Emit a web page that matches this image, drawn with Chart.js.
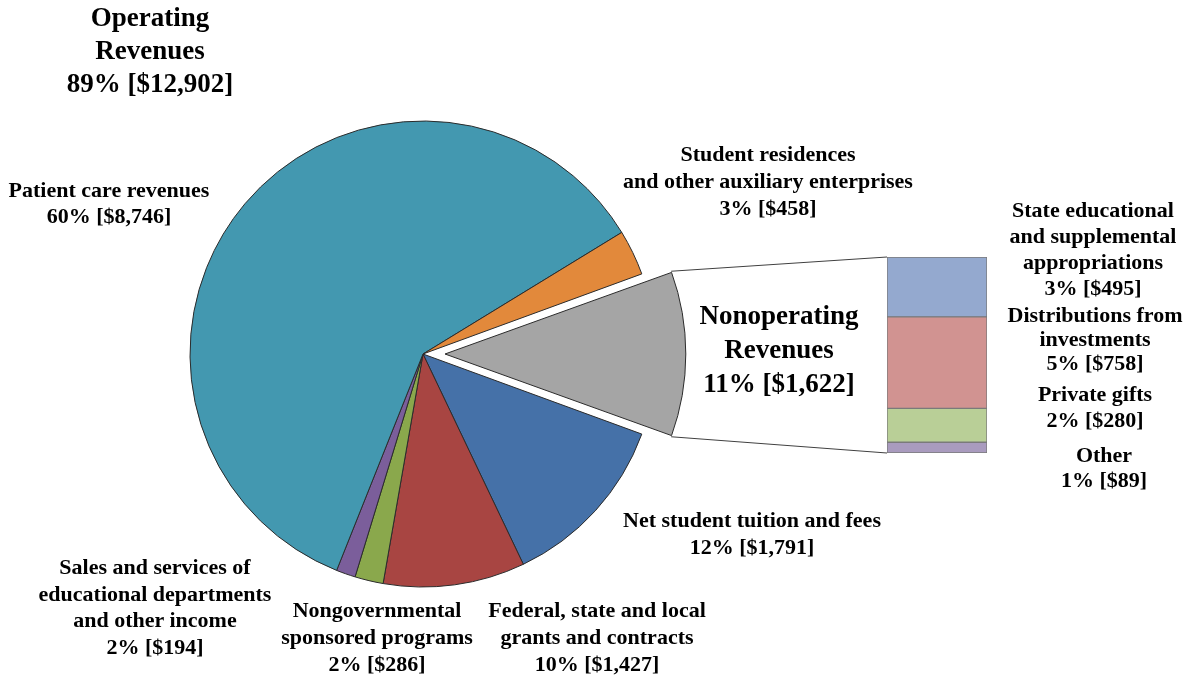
<!DOCTYPE html>
<html lang="en">
<head>
    <meta charset="UTF-8">
    <title>Revenues - Pie of Bar</title>
    <style>
        html, body { margin: 0; padding: 0; background: #fff; }
        .wrap { position: relative; width: 1191px; height: 677px; overflow: hidden; }
        .wrap canvas { position: absolute; left: 0; top: 0; }
        .lbl {
            position: absolute;
            transform: translateX(-50%);
            white-space: nowrap;
            text-align: center;
            font-family: "Liberation Serif", "Times New Roman", serif;
            font-weight: bold;
            font-size: 22px;
            line-height: 26px;
            color: #000;
        }
        .big { font-size: 27px; line-height: 33px; }
    </style>
</head>
<body>
    <div class="wrap">
        <canvas id="barChart" width="1191" height="677"></canvas>
        <canvas id="pieChart" width="1191" height="677"></canvas>

        <div class="lbl big" style="left:150px; top:1px;">Operating<br>Revenues<br>89% [$12,902]</div>
        <div class="lbl" style="left:109px; top:177px;">Patient care revenues<br>60% [$8,746]</div>
        <div class="lbl" style="left:768px; top:140px; line-height:27px;">Student residences<br>and other auxiliary enterprises<br>3% [$458]</div>
        <div class="lbl" style="left:1093px; top:197px;">State educational<br>and supplemental<br>appropriations<br>3% [$495]</div>
        <div class="lbl" style="left:1095px; top:303px; line-height:24px;">Distributions from<br>investments<br>5% [$758]</div>
        <div class="lbl" style="left:1095px; top:381px;">Private gifts<br>2% [$280]</div>
        <div class="lbl" style="left:1104px; top:442px; line-height:25px;">Other<br>1% [$89]</div>
        <div class="lbl big" style="left:779px; top:298px; line-height:34px;">Nonoperating<br>Revenues<br>11% [$1,622]</div>
        <div class="lbl" style="left:752px; top:506px; line-height:27px;">Net student tuition and fees<br>12% [$1,791]</div>
        <div class="lbl" style="left:597px; top:596px; line-height:27px;">Federal, state and local<br>grants and contracts<br>10% [$1,427]</div>
        <div class="lbl" style="left:377px; top:596px; line-height:27px;">Nongovernmental<br>sponsored programs<br>2% [$286]</div>
        <div class="lbl" style="left:155px; top:554px; line-height:26.5px;">Sales and services of<br>educational departments<br>and other income<br>2% [$194]</div>
    </div>

    <script src="https://cdn.jsdelivr.net/npm/chart.js"></script>
    <script>
        // pie slices, clockwise starting just below the exploded slice
        const pieLabels = [
            'Net student tuition and fees',
            'Federal, state and local grants and contracts',
            'Nongovernmental sponsored programs',
            'Sales and services of educational departments and other income',
            'Patient care revenues',
            'Student residences and other auxiliary enterprises',
            'Nonoperating Revenues'
        ];
        const pieValues = [1791, 1427, 286, 194, 8746, 458, 1622];
        const pieColors = ['#4571a8', '#a84542', '#8aa84c', '#7b5e9b', '#4398b0', '#e2893b', '#a5a5a5'];

        // breakdown of the nonoperating slice, top to bottom
        const barLabels = ['State educational and supplemental appropriations', 'Distributions from investments', 'Private gifts', 'Other'];
        const barValues = [495, 758, 280, 89];
        const barColors = ['#94a9cf', '#d19391', '#b9cf97', '#a99bbe'];

        const pieTotal = pieValues.reduce((a, b) => a + b, 0);
        const barTotal = barValues.reduce((a, b) => a + b, 0);
        const explodeIdx = pieValues.length - 1;

        // stacked bar: datasets go bottom-up, so reverse the lists
        const barChart = new Chart(document.getElementById('barChart'), {
            type: 'bar',
            data: {
                labels: ['Nonoperating'],
                datasets: barValues.map((v, i) => ({
                    label: barLabels[i],
                    data: [v],
                    backgroundColor: barColors[i],
                    borderColor: '#7a7a7a',
                    borderWidth: 1,
                    borderSkipped: false,
                    barPercentage: 1,
                    categoryPercentage: 1
                })).reverse()
            },
            options: {
                responsive: false,
                animation: false,
                layout: { padding: { left: 887, right: 204, top: 257, bottom: 224 } },
                plugins: { legend: { display: false }, tooltip: { enabled: false } },
                scales: {
                    x: { display: false, stacked: true },
                    y: { display: false, stacked: true, min: 0, max: barTotal }
                }
            }
        });

        // lines joining the exploded slice to the bar
        const connectors = {
            id: 'connectors',
            afterDraw(chart) {
                const arc = chart.getDatasetMeta(0).data[explodeIdx];
                const p = arc.getProps(['x', 'y', 'startAngle', 'endAngle', 'outerRadius'], true);
                const off = (arc.options.offset || 0) / 4;
                const mid = (p.startAngle + p.endAngle) / 2;
                const cx = p.x + Math.cos(mid) * off;
                const cy = p.y + Math.sin(mid) * off;
                const r = p.outerRadius + off * (1 - Math.sin(Math.min(Math.PI, p.endAngle - p.startAngle)));

                const bars = barChart.data.datasets.map((d, i) => barChart.getDatasetMeta(i).data[0]);
                const topBar = bars[bars.length - 1];
                const botBar = bars[0];
                const bx = topBar.x - topBar.width / 2;

                const ctx = chart.ctx;
                ctx.save();
                ctx.strokeStyle = '#404040';
                ctx.lineWidth = 1;
                ctx.beginPath();
                ctx.moveTo(cx + r * Math.cos(p.startAngle), cy + r * Math.sin(p.startAngle));
                ctx.lineTo(bx, topBar.y);
                ctx.moveTo(cx + r * Math.cos(p.endAngle), cy + r * Math.sin(p.endAngle));
                ctx.lineTo(bx, botBar.base);
                ctx.stroke();
                ctx.restore();
            }
        };

        new Chart(document.getElementById('pieChart'), {
            type: 'pie',
            data: {
                labels: pieLabels,
                datasets: [{
                    data: pieValues,
                    backgroundColor: pieColors,
                    borderColor: '#2b2b2b',
                    borderWidth: 1,
                    offset: pieValues.map((v, i) => i === explodeIdx ? 88 : 0)
                }]
            },
            options: {
                responsive: false,
                animation: false,
                radius: 233,
                // center the exploded slice on 3 o'clock
                rotation: 90 + pieValues[explodeIdx] / pieTotal * 180,
                layout: { padding: { left: 0, right: 345, top: 31, bottom: 0 } },
                plugins: { legend: { display: false }, tooltip: { enabled: false } }
            },
            plugins: [connectors]
        });
    </script>
</body>
</html>
